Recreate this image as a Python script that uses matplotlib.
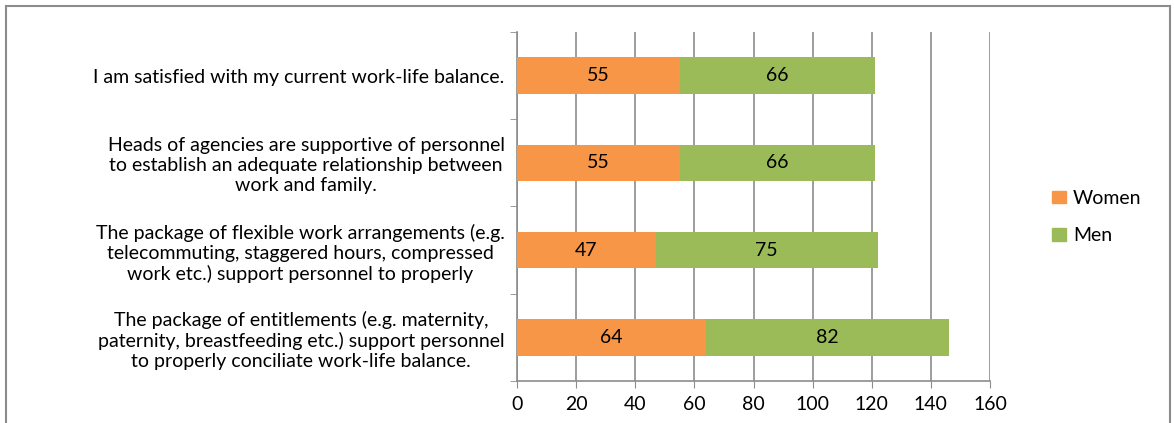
import matplotlib
matplotlib.use("Agg")
import matplotlib.pyplot as plt
from matplotlib.patches import Rectangle, Patch

# statements, listed top to bottom as in the chart
statements = [
    "I am satisfied with my current work-life balance.",
    "Heads of agencies are supportive of personnel\nto establish an adequate relationship between\nwork and family.",
    "The package of flexible work arrangements (e.g.\ntelecommuting, staggered hours, compressed\nwork etc.) support personnel to properly",
    "The package of entitlements (e.g. maternity,\npaternity, breastfeeding etc.) support personnel\nto properly conciliate work-life balance.",
]
women = [55, 55, 47, 64]
men = [66, 66, 75, 82]
x_ticks = [0, 20, 40, 60, 80, 100, 120, 140, 160]

orange = "#F79646"
green = "#9BBB59"
grid_col = "#8C8C8C"

plt.rcParams['font.family'] = ['Lato', 'DejaVu Sans']
plt.rcParams['font.size'] = 14

fig = plt.figure(figsize=(11.74, 4.23), dpi=100)
ax = fig.add_axes([517 / 1174, 1 - 381 / 423, (990 - 517) / 1174, (381 - 32) / 423])

ypos = list(range(len(statements)))
b1 = ax.barh(ypos, women, height=0.42, color=orange, label="Women", zorder=3)
b2 = ax.barh(ypos, men, left=women, height=0.42, color=green, label="Men", zorder=3)
ax.bar_label(b1, label_type='center', fontsize=14, color='black')
ax.bar_label(b2, label_type='center', fontsize=14, color='black')

ax.set_xlim(0, 160)
ax.set_ylim(3.5, -0.5)
ax.set_xticks(x_ticks)
ax.set_xticklabels([str(v) for v in x_ticks])
ax.xaxis.grid(True, color=grid_col, linewidth=1.2, zorder=0)
ax.tick_params(axis='x', length=5, color=grid_col, pad=6)

ax.set_yticks(ypos)
ax.set_yticklabels(statements, multialignment='center', linespacing=1.22)
ax.tick_params(axis='y', length=0, pad=9)
ax.set_yticks([-0.5, 0.5, 1.5, 2.5, 3.5], minor=True)
ax.tick_params(axis='y', which='minor', length=5, color=grid_col)

for side in ['top', 'right']:
    ax.spines[side].set_visible(False)
for side in ['left', 'bottom']:
    ax.spines[side].set_color(grid_col)
    ax.spines[side].set_linewidth(1.2)

handles = [Patch(color=orange, label="Women"), Patch(color=green, label="Men")]
fig.legend(handles=handles, loc='center left', bbox_to_anchor=(1052 / 1174, 1 - 217 / 423),
           frameon=False, handlelength=0.72, handleheight=0.6, labelspacing=1.05,
           fontsize=14, handletextpad=0.35, borderpad=0, borderaxespad=0)

# outer chart border
fig.patches.append(Rectangle((6 / 1174, -0.02), 1164 / 1174, 1 - 6 / 423 + 0.02,
                             transform=fig.transFigure, fill=False,
                             edgecolor='#8C8C8C', linewidth=1.5))

fig.savefig("out.png", dpi=100)
